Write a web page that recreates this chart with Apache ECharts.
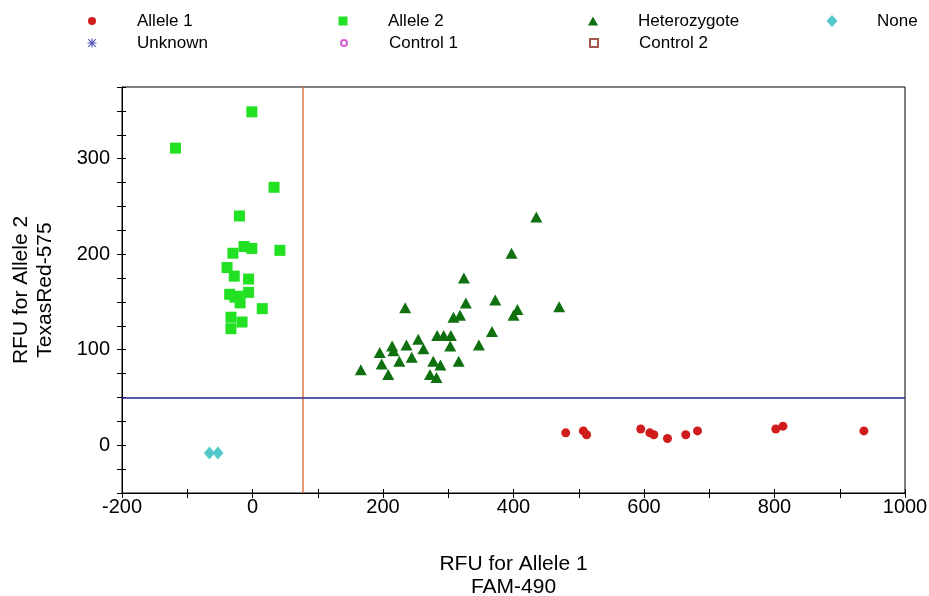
<!DOCTYPE html>
<html>
<head>
<meta charset="utf-8">
<script src="https://cdn.jsdelivr.net/npm/echarts@6/dist/echarts.min.js"></script>
<style>
html,body{margin:0;padding:0;background:#fff;}
#chart{width:929px;height:596px;}
</style>
</head>
<body>
<div id="chart"></div>
<script>
// ---- data ----
var allele1 = [[480,13],[507,15],[512,11],[595,17],[609,13],[615,11],[636,7],[664,11],[682,15],[802,17],[813,20],[937,15]];
var allele2 = [[-118,311],[-1,349],[33,270],[-20,240],[-13,208],[-1,206],[42,204],[-30,201],[-39,186],[-28,177],[-6,174],[-35,158],[-23,156],[-6,160],[-27,155],[-19,149],[15,143],[-33,134],[-16,129],[-33,122]];
var heterozygote = [[435,239],[397,201],[324,175],[327,149],[372,152],[470,145],[234,144],[406,142],[400,136],[308,134],[318,136],[367,119],[283,115],[293,115],[304,115],[303,104],[347,105],[254,111],[262,101],[236,105],[214,104],[216,99],[195,97],[244,92],[225,88],[198,85],[277,88],[316,88],[288,84],[166,79],[208,74],[272,74],[282,71]];
var noneCalls = [[-66,-8],[-53,-8]];
var unknown = [];
var control1 = [];
var control2 = [];
var thresholdX = 77;
var thresholdY = 50;
var xMin = -200, xMax = 1000, xStep = 100;
var yMin = -50, yMax = 375, yStep = 25;
var xTitle = 'RFU for Allele 1\nFAM-490';
var yTitle = 'RFU for Allele 2\nTexasRed-575';

var FONT = 'Liberation Sans';
var asterisk = 'path://M4.4,0h1.2v10h-1.2z M0,4.4h10v1.2h-10z M1.2,0.4 L9.6,8.8 L8.8,9.6 L0.4,1.2z M8.8,0.4 L9.6,1.2 L1.2,9.6 L0.4,8.8z';

var legendSpecs = [
  {name:'Allele 1', x:92, y:21, w:8, h:8},
  {name:'Allele 2', x:343, y:21, w:9, h:9},
  {name:'Heterozygote', x:593, y:21, w:10, h:9},
  {name:'None', x:832, y:21, w:11, h:12},
  {name:'Unknown', x:92, y:43, w:9, h:9},
  {name:'Control 1', x:343, y:43, w:6, h:6},
  {name:'Control 2', x:593, y:43, w:8, h:8}
];
var legends = legendSpecs.map(function(s){
  return {
    data:[s.name], left:s.x-s.w/2, top:s.y-10, itemWidth:s.w, itemHeight:s.h,
    padding:0, selectedMode:false,
    textStyle:{fontFamily:FONT, fontSize:17, color:'#000', padding:[0,0,0,40-s.w/2], lineHeight:20}
  };
});

var chart = echarts.init(document.getElementById('chart'), null, {renderer:'canvas'});
var axisCommonX = {type:'value', min:xMin, max:xMax, interval:xStep, gridIndex:0, position:'bottom', splitLine:{show:false}};
var axisCommonY = {type:'value', min:yMin, max:yMax, interval:yStep, gridIndex:0, position:'left', splitLine:{show:false}};

chart.setOption({
  animation:false,
  backgroundColor:'#fff',
  legend: legends,
  grid:{left:122, right:24, top:87, bottom:103, outerBoundsMode:'none', containLabel:false,
        show:true, borderColor:'#000', borderWidth:1, backgroundColor:'#fff'},
  xAxis:[
    Object.assign({}, axisCommonX, {
      name:xTitle, nameLocation:'middle', nameGap:60,
      nameTextStyle:{fontFamily:FONT, fontSize:21, color:'#000', lineHeight:23},
      axisLine:{show:true, onZero:false, lineStyle:{color:'#000', width:1}},
      axisTick:{show:true, inside:false, length:5, lineStyle:{color:'#000'}},
      axisLabel:{fontFamily:FONT, fontSize:20, color:'#000', margin:4,
        formatter:function(v){return (v%200===0)?String(v):'';}}
    }),
    Object.assign({}, axisCommonX, {
      axisLine:{show:false, onZero:false},
      axisTick:{show:true, inside:true, length:4, lineStyle:{color:'#000'}},
      axisLabel:{show:false}
    })
  ],
  yAxis:[
    Object.assign({}, axisCommonY, {
      name:yTitle, nameLocation:'middle', nameGap:65, nameRotate:90,
      nameTextStyle:{fontFamily:FONT, fontSize:21, color:'#000', lineHeight:24},
      axisLine:{show:true, onZero:false, lineStyle:{color:'#000', width:1}},
      axisTick:{show:true, inside:false, length:5, lineStyle:{color:'#000'}},
      axisLabel:{fontFamily:FONT, fontSize:20, color:'#000', margin:12,
        formatter:function(v){return (v%100===0)?String(v):'';}}
    }),
    Object.assign({}, axisCommonY, {
      axisLine:{show:false, onZero:false},
      axisTick:{show:true, inside:true, length:4, lineStyle:{color:'#000'}},
      axisLabel:{show:false}
    })
  ],
  series:[
    {name:'Allele 1', type:'scatter', data:allele1, symbol:'circle', symbolSize:9,
     itemStyle:{color:'#d01c1c', opacity:1},
     markLine:{silent:true, symbol:['none','none'], label:{show:false}, animation:false,
       data:[
         {xAxis:thresholdX, lineStyle:{color:'#e07a45', width:1.5, type:'solid'}},
         {yAxis:thresholdY, lineStyle:{color:'#26268c', width:1.5, type:'solid'}}
       ]}},
    {name:'Allele 2', type:'scatter', data:allele2, symbol:'rect', symbolSize:11,
     itemStyle:{color:'#22e022', opacity:1}},
    {name:'Heterozygote', type:'scatter', data:heterozygote, symbol:'triangle', symbolSize:[12,11],
     itemStyle:{color:'#0f700f', opacity:1}},
    {name:'None', type:'scatter', data:noneCalls, symbol:'diamond', symbolSize:[11,13],
     itemStyle:{color:'#52c8c8', opacity:1}},
    {name:'Unknown', type:'scatter', data:unknown, symbol:asterisk, symbolSize:10,
     itemStyle:{color:'#2424a0'}},
    {name:'Control 1', type:'scatter', data:control1, symbol:'emptyCircle', symbolSize:6,
     itemStyle:{color:'#c838c8', borderWidth:1.2}},
    {name:'Control 2', type:'scatter', data:control2, symbol:'emptyRect', symbolSize:8,
     itemStyle:{color:'#8a3020', borderWidth:1.5}}
  ]
});
</script>
</body>
</html>
